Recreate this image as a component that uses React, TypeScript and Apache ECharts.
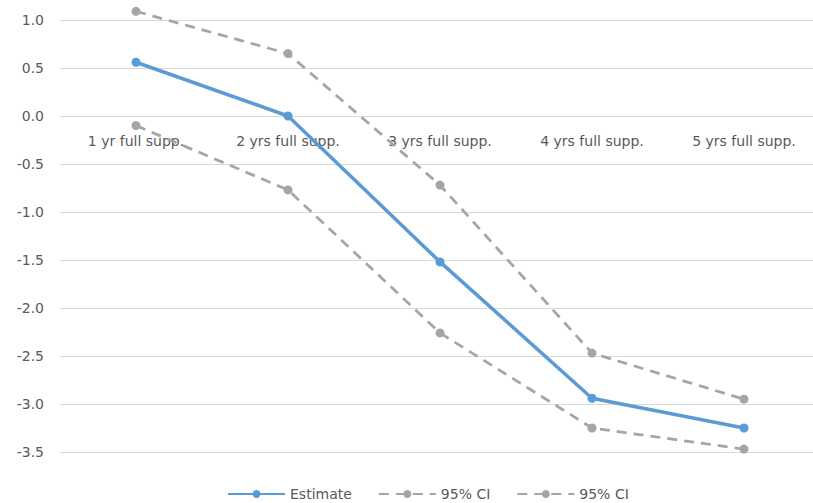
import React, { useEffect, useRef } from "react";
import * as echarts from "echarts";

const categories = ["1 yr full supp.", "2 yrs full supp.", "3 yrs full supp.", "4 yrs full supp.", "5 yrs full supp."];
const estimate = [0.56, 0.0, -1.52, -2.94, -3.25];
const upperCI = [1.09, 0.65, -0.72, -2.47, -2.95];
const lowerCI = [-0.1, -0.77, -2.26, -3.25, -3.47];
const yTicks = { min: -3.5, max: 1.0, interval: 0.5 };

const FONT = "'DejaVu Sans', 'Noto Sans', sans-serif";
const TEXT_COLOR = "#595959";
const GRID_TOP = 20;
const GRID_HEIGHT = 432;
// move category axis (with its labels) up to the zero line
const ZERO_OFFSET = -GRID_HEIGHT * (0 - yTicks.min) / (yTicks.max - yTicks.min);

export default function App() {
  const ref = useRef<HTMLDivElement>(null);
  useEffect(() => {
    if (!ref.current) return;
    const chart = echarts.init(ref.current, undefined, { renderer: "svg" });
    const ciStyle = (name: string, data: number[]) => ({
      name,
      type: "line",
      data,
      symbol: "circle",
      symbolSize: 9,
      clip: false,
      itemStyle: { color: "#A5A5A5" },
      lineStyle: { color: "#A5A5A5", width: 2.75, type: [10, 7] },
      z: 2,
    });
    chart.setOption({
      animation: false,
      textStyle: { fontFamily: FONT },
      grid: {
        left: 60,
        width: 760,
        top: GRID_TOP,
        height: GRID_HEIGHT,
        containLabel: false,
        outerBoundsMode: "none",
      },
      xAxis: {
        type: "category",
        data: categories,
        boundaryGap: true,
        offset: ZERO_OFFSET,
        axisLine: { onZero: false, lineStyle: { color: "#D9D9D9", width: 1 } },
        axisTick: { show: false },
        axisLabel: { color: TEXT_COLOR, fontSize: 14, margin: 18, fontFamily: FONT },
        splitLine: { show: false },
      },
      yAxis: {
        type: "value",
        min: yTicks.min,
        max: yTicks.max,
        interval: yTicks.interval,
        axisLine: { show: false },
        axisTick: { show: false },
        axisLabel: {
          color: TEXT_COLOR,
          fontSize: 14,
          margin: 16,
          fontFamily: FONT,
          formatter: (v: number) => v.toFixed(1),
        },
        splitLine: { lineStyle: { color: "#D9D9D9", width: 1 } },
      },
      legend: {
        top: 482,
        left: 222,
        itemWidth: 57,
        itemHeight: 10,
        itemGap: 26,
        textStyle: { color: TEXT_COLOR, fontSize: 14, fontFamily: FONT },
        data: ["Estimate", "95% CI (upper)", "95% CI (lower)"],
        formatter: (name: string) => (name.startsWith("95% CI") ? "95% CI" : name),
      },
      series: [
        {
          name: "Estimate",
          type: "line",
          data: estimate,
          symbol: "circle",
          symbolSize: 9,
          clip: false,
          itemStyle: { color: "#5B9BD5" },
          lineStyle: { color: "#5B9BD5", width: 3.5 },
          z: 3,
        },
        ciStyle("95% CI (upper)", upperCI),
        ciStyle("95% CI (lower)", lowerCI),
      ],
    });
    return () => chart.dispose();
  }, []);
  return (
    <div
      ref={ref}
      style={{ position: "fixed", left: 0, top: 0, width: 813, height: 503, background: "#fff" }}
    />
  );
}
